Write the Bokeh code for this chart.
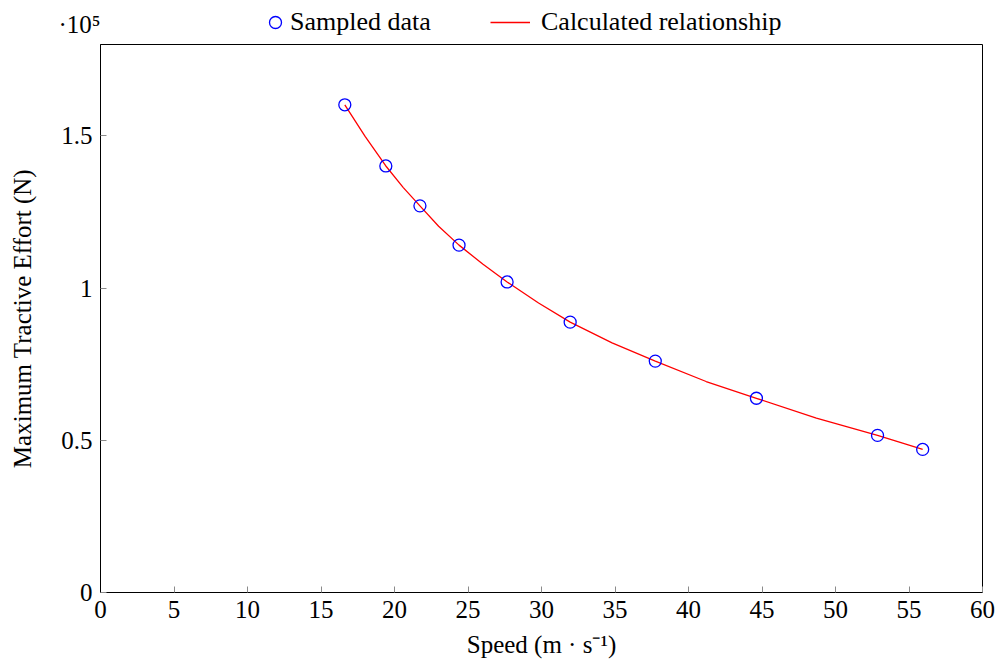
from bokeh.plotting import figure
from bokeh.layouts import column
from bokeh.models import Range1d, FixedTicker, Legend, LegendItem
from bokeh.embed import file_html
from bokeh.resources import INLINE

# Sampled data (speed m/s, tractive effort N)
speed = [16.62, 19.41, 21.73, 24.39, 27.66, 31.95, 37.74, 44.62, 52.86, 55.93]
effort = [160200, 140100, 127000, 114100, 102000, 88800, 76000, 63800, 51600, 47000]

# Calculated relationship curve
curve_speed = [16.62, 18.0, 19.41, 20.6, 21.73, 23.0, 24.39, 26.0, 27.66, 29.8, 31.95,
               34.8, 37.74, 41.2, 44.62, 48.7, 52.86, 54.4, 55.93]
curve_effort = [160200, 149800, 140100, 133000, 127000, 120300, 114100, 107900, 102000,
                95100, 88800, 82000, 76000, 69300, 63800, 57300, 51600, 49300, 47000]

x_ticks = [0, 5, 10, 15, 20, 25, 30, 35, 40, 45, 50, 55, 60]
y_ticks = [0, 50000, 100000, 150000]
y_tick_labels = ["0", "0.5", "1", "1.5"]
y_scale_label = "·10\u2075"

FONT = "Liberation Serif"
FS = "25px"
LFS = "26px"

line_style = dict(line_color="red", line_width=1.3)
pt_style = dict(marker="circle", size=12, fill_color=None, line_color="blue", line_width=1.3)

# ---- main plot ----
p = figure(frame_width=882, frame_height=548,
           output_backend="svg", toolbar_location=None,
           x_range=Range1d(0, 60), y_range=Range1d(0, 180000),
           min_border_left=100, min_border_top=2, min_border_right=16, min_border_bottom=0)
p.background_fill_color = "white"
p.border_fill_color = "white"
p.outline_line_color = "black"
p.outline_line_width = 1
p.xgrid.visible = False
p.ygrid.visible = False

p.line(curve_speed, curve_effort, **line_style)
p.scatter(speed, effort, **pt_style)

p.xaxis.ticker = FixedTicker(ticks=x_ticks)
p.yaxis.ticker = FixedTicker(ticks=y_ticks)
p.yaxis.major_label_overrides = {v: s for v, s in zip(y_ticks, y_tick_labels)}

for ax in (p.xaxis[0], p.yaxis[0]):
    ax.axis_line_color = "black"
    ax.major_tick_in = 6
    ax.major_tick_out = 0
    ax.major_tick_line_color = "#8a8a8a"
    ax.minor_tick_line_color = None
    ax.major_label_text_font = FONT
    ax.major_label_text_font_size = FS
    ax.major_label_text_color = "black"
    ax.axis_label_text_font = FONT
    ax.axis_label_text_font_size = FS
    ax.axis_label_text_font_style = "normal"
    ax.axis_label_text_color = "black"

p.xaxis.axis_label = "Speed (m · s\u207b\u00b9)"
p.yaxis.axis_label = "Maximum Tractive Effort (N)"
p.xaxis.major_label_standoff = 8
p.yaxis.major_label_standoff = 8
p.xaxis.axis_label_standoff = 10
p.yaxis.axis_label_standoff = 22

# ---- header strip: exponent marker and legend ----
h = figure(frame_width=882, frame_height=42, output_backend="svg", toolbar_location=None,
           x_range=Range1d(0, 60), y_range=Range1d(0, 42),
           min_border_left=100, min_border_right=16, min_border_top=0, min_border_bottom=0)
h.xaxis.visible = False
h.grid.visible = False
h.outline_line_color = None
h.background_fill_color = "white"
h.border_fill_color = "white"

# the exponent "·10^5" as the header's left-axis tick label
h.yaxis.ticker = FixedTicker(ticks=[18])
h.yaxis.major_label_overrides = {18: y_scale_label}
h.yaxis.axis_line_color = None
h.yaxis.major_tick_line_color = None
h.yaxis.minor_tick_line_color = None
h.yaxis.major_label_standoff = -6
h.yaxis.major_label_text_font = FONT
h.yaxis.major_label_text_font_size = FS
h.yaxis.major_label_text_color = "black"

# legend proxies (same data, outside the header's visible range)
hl = h.line(curve_speed, curve_effort, **line_style)
hs = h.scatter(speed, effort, **pt_style)

leg1 = Legend(items=[LegendItem(label="Sampled data", renderers=[hs])],
              location=(160, 5), border_line_color=None, background_fill_alpha=0,
              label_text_font=FONT, label_text_font_size=LFS, label_text_color="black",
              glyph_width=30, glyph_height=30, padding=0, margin=0, label_standoff=-3)
leg2 = Legend(items=[LegendItem(label="Calculated relationship", renderers=[hl])],
              location=(390, 5), border_line_color=None, background_fill_alpha=0,
              label_text_font=FONT, label_text_font_size=LFS, label_text_color="black",
              glyph_width=40, glyph_height=30, padding=0, margin=0, label_standoff=11)
h.add_layout(leg1)
h.add_layout(leg2)

layout = column(h, p, spacing=0)
open("out.html", "w").write(file_html(layout, INLINE))
